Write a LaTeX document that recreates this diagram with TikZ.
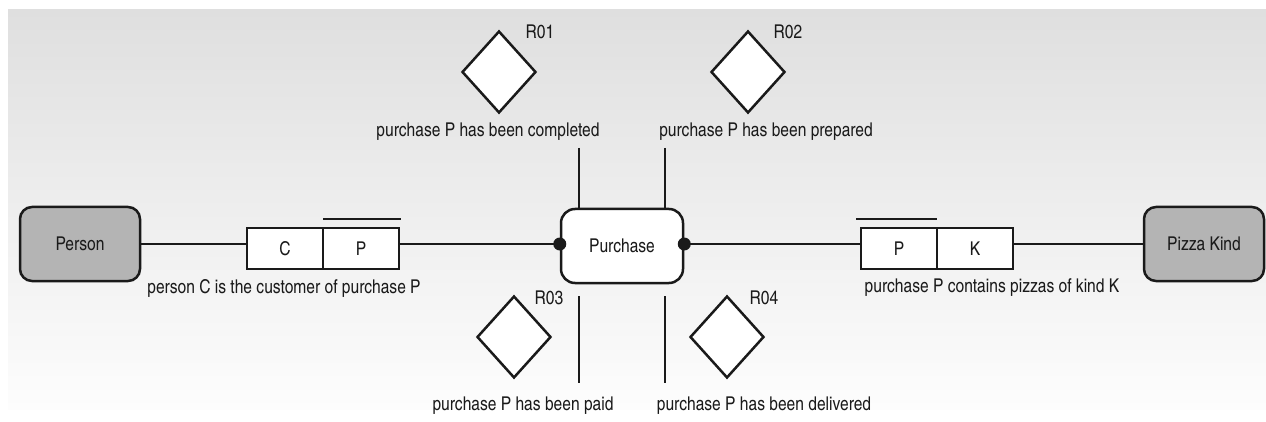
\documentclass[tikz,border=0pt]{standalone}
\usepackage{fontspec}
\setmainfont{texgyreheroscn-regular.otf}
\usetikzlibrary{shapes.geometric}
\definecolor{inkc}{HTML}{1A1A1A}
\definecolor{entityfill}{HTML}{B4B4B4}
\definecolor{bgtop}{HTML}{DFDFDF}
\definecolor{bgbottom}{HTML}{FDFDFD}
\tikzset{
  every node/.style={font=\fontsize{19}{22}\selectfont, text=inkc},
  entity/.style={draw=inkc, line width=2.5pt, rounded corners=12pt,
    minimum width=120pt, minimum height=74pt, inner sep=0pt},
  rolecell/.style={draw=inkc, line width=2.5pt, fill=white, outer sep=0pt,
    minimum width=76pt, minimum height=41pt, inner sep=0pt},
  facttype/.style={diamond, draw=inkc, line width=2.5pt, fill=white,
    minimum width=74pt, minimum height=82pt, inner sep=0pt},
  conn/.style={draw=inkc, line width=2pt},
  uniq/.style={draw=inkc, line width=2.5pt},
  joindot/.style={circle, fill=inkc, inner sep=0pt, minimum size=13pt},
  caption/.style={inner sep=0pt, anchor=center},
}
\begin{document}
\begin{tikzpicture}[x=1pt, y=-1pt]
  \useasboundingbox (0,0) rectangle (1266,422);
  % shaded backdrop
  \shade[top color=bgtop, bottom color=bgbottom] (8,10) rectangle (1266,409);

  % entity types
  \node[entity, fill=entityfill] (person) at (80,244) {Person};
  \node[entity, fill=entityfill] (pizza) at (1204,244) {Pizza Kind};
  \node[entity, fill=white, minimum width=122pt, rounded corners=14pt] (purchase) at (622,246) {Purchase};

  % binary fact type: customer
  \node[rolecell] (rc) at (285,248.5) {C};
  \node[rolecell, anchor=west] (rp) at (rc.east) {P};
  \node[caption] (capcust) at (284,288) {person C is the customer of purchase P};

  % binary fact type: contains
  \node[rolecell] (rpk) at (899,248.5) {P};
  \node[rolecell, anchor=west] (rk) at (rpk.east) {K};
  \node[caption] (capcont) at (992,288) {purchase P contains pizzas of kind K};

  % uniqueness bars
  \draw[uniq] ([yshift=9pt]rp.north west) -- ([xshift=2pt,yshift=9pt]rp.north east);
  \draw[uniq] ([xshift=-5pt,yshift=9pt]rpk.north west) -- ([yshift=9pt]rpk.north east);

  % connectors along the main axis
  \draw[conn] (person.east) -- (rc.west |- person.east);
  \draw[conn] (rp.east |- person.east) -- (purchase.west |- person.east);
  \draw[conn] (purchase.east |- person.east) -- (rpk.west |- person.east);
  \draw[conn] (rk.east |- person.east) -- (pizza.west);
  \node[joindot] (dl) at (purchase.west |- person.east) {};
  \node[joindot] (dr) at (purchase.east |- person.east) {};

  % unary fact types
  \node[facttype] (r1) at (499,72) {};
  \node[facttype] (r2) at (748,72) {};
  \node[facttype] (r3) at (514,337) {};
  \node[facttype] (r4) at (727,337) {};
  \node[caption] (l1) at (540,32) {R01};
  \node[caption] (l2) at (788,32) {R02};
  \node[caption] (l3) at (549,298) {R03};
  \node[caption] (l4) at (764,298) {R04};
  \node[caption] (c1) at (488,132) {purchase P has been completed};
  \node[caption] (c2) at (766,132) {purchase P has been prepared};
  \node[caption] (c3) at (523,406) {purchase P has been paid};
  \node[caption] (c4) at (764,406) {purchase P has been delivered};

  % role lines above and below the purchase
  \coordinate (t1) at (579,148);
  \coordinate (t2) at (665,148);
  \coordinate (b1a) at (579,296);
  \coordinate (b1b) at (579,383);
  \coordinate (b2a) at (665,296);
  \coordinate (b2b) at (665,383);
  \draw[conn] (t1) -- (t1 |- purchase.north);
  \draw[conn] (t2) -- (t2 |- purchase.north);
  \draw[conn] (b1a) -- (b1b);
  \draw[conn] (b2a) -- (b2b);
\end{tikzpicture}
\end{document}
